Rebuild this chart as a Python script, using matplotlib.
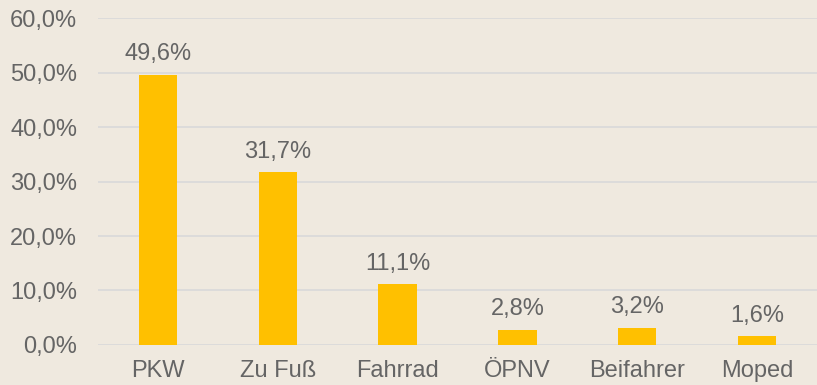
import numpy as np
import matplotlib.pyplot as plt
from matplotlib.ticker import FuncFormatter

# Anteile der Verkehrsmittel
kategorien = ['PKW', 'Zu Fuß', 'Fahrrad', 'ÖPNV', 'Beifahrer', 'Moped']
anteile = [49.6, 31.7, 11.1, 2.8, 3.2, 1.6]

hintergrund = '#efe9df'
textfarbe = '#656565'

plt.rcParams['font.family'] = ['Liberation Sans', 'DejaVu Sans']

fig = plt.figure(figsize=(8.17, 3.85), dpi=100, facecolor=hintergrund)
ax = fig.add_axes([0.12, 0.104, 0.88, 0.849])
ax.set_facecolor(hintergrund)

x = np.arange(len(kategorien))
ax.bar(x, anteile, width=0.32, color='#ffc000', zorder=3)

# Werte über den Balken
for xi, v in zip(x, anteile):
    ax.annotate(f'{v:.1f}%'.replace('.', ','), (xi, v), xytext=(0, 7),
                textcoords='offset points', ha='center', va='bottom',
                fontsize=17, color=textfarbe)

ax.set_xlim(-0.5, len(kategorien) - 0.5)
ax.set_ylim(0, 60)
ax.set_yticks(np.arange(0, 61, 10))
ax.yaxis.set_major_formatter(FuncFormatter(lambda v, p: f'{v:.1f}%'.replace('.', ',')))
ax.set_xticks(x)
ax.set_xticklabels(kategorien)

ax.grid(axis='y', color='#d9d9d9', linewidth=1.2, zorder=0)
for s in ax.spines.values():
    s.set_visible(False)
ax.tick_params(axis='both', length=0, labelsize=17, colors=textfarbe)
ax.tick_params(axis='y', pad=15)
ax.tick_params(axis='x', pad=11)

fig.savefig('out.png', dpi=100, facecolor=hintergrund)
